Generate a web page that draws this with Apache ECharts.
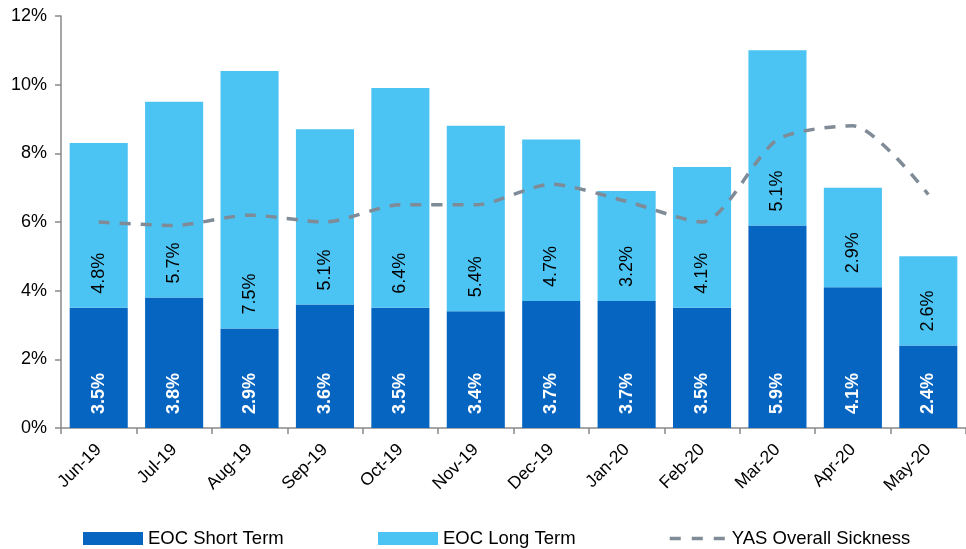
<!DOCTYPE html>
<html>
<head>
<meta charset="utf-8">
<script src="https://cdn.jsdelivr.net/npm/echarts@6/dist/echarts.min.js"></script>
<style>
  html, body { margin: 0; padding: 0; background: #ffffff; }
  #chart { width: 966px; height: 549px; }
</style>
</head>
<body>
<div id="chart"></div>
<script>
// Monthly sickness rates (%)
const months = ['Jun-19', 'Jul-19', 'Aug-19', 'Sep-19', 'Oct-19', 'Nov-19', 'Dec-19', 'Jan-20', 'Feb-20', 'Mar-20', 'Apr-20', 'May-20'];
const eocShortTerm = [3.5, 3.8, 2.9, 3.6, 3.5, 3.4, 3.7, 3.7, 3.5, 5.9, 4.1, 2.4];
const eocLongTerm = [4.8, 5.7, 7.5, 5.1, 6.4, 5.4, 4.7, 3.2, 4.1, 5.1, 2.9, 2.6];
const yasOverall = [6.0, 5.9, 6.2, 6.0, 6.5, 6.5, 7.1, 6.6, 6.0, 8.4, 8.8, 6.8];
const yTicks = { min: 0, max: 12, step: 2 };

const FONT = '"Liberation Sans", Arial, sans-serif';
const pct = p => p.value.toFixed(1) + '%';

const barLabel = (color, weight) => ({
  show: true,
  position: 'insideBottom',
  distance: 14,
  rotate: 90,
  align: 'left',
  verticalAlign: 'middle',
  color: color,
  fontFamily: FONT,
  fontSize: 18,
  fontWeight: weight,
  formatter: pct
});

const legendBase = {
  top: 524,
  itemWidth: 60,
  itemHeight: 13,
  itemGap: 6,
  textStyle: { fontFamily: FONT, fontSize: 18.5, color: '#000' }
};

const chart = echarts.init(document.getElementById('chart'), null, { renderer: 'canvas' });
chart.setOption({
  animation: false,
  backgroundColor: '#ffffff',
  grid: { left: 61, right: -5, top: 16, bottom: 121, containLabel: false },
  legend: [
    Object.assign({}, legendBase, { left: 78, icon: 'rect', data: ['EOC Short Term'] }),
    Object.assign({}, legendBase, { left: 373, icon: 'rect', data: ['EOC Long Term'] }),
    Object.assign({}, legendBase, {
      left: 663,
      itemWidth: 57,
      itemStyle: { opacity: 0 },
      lineStyle: { type: [11, 11], width: 3.5 },
      data: ['YAS Overall Sickness']
    })
  ],
  xAxis: {
    type: 'category',
    data: months,
    axisLine: { lineStyle: { color: '#898989', width: 1.5 } },
    axisTick: { show: true, length: 6, lineStyle: { color: '#898989', width: 1.5 } },
    axisLabel: {
      rotate: 45,
      margin: 19,
      color: '#000',
      fontFamily: FONT,
      fontSize: 17.5
    }
  },
  yAxis: {
    type: 'value',
    min: yTicks.min,
    max: yTicks.max,
    interval: yTicks.step,
    splitLine: { show: false },
    axisLine: { show: true, lineStyle: { color: '#898989', width: 1.5 } },
    axisTick: { show: true, length: 6, lineStyle: { color: '#898989', width: 1.5 } },
    axisLabel: {
      formatter: '{value}%',
      margin: 14,
      color: '#000',
      fontFamily: FONT,
      fontSize: 18
    }
  },
  series: [
    {
      name: 'EOC Short Term',
      type: 'bar',
      stack: 'eoc',
      data: eocShortTerm,
      barWidth: '77%',
      itemStyle: { color: '#0565C1' },
      label: barLabel('#ffffff', 'bold')
    },
    {
      name: 'EOC Long Term',
      type: 'bar',
      stack: 'eoc',
      data: eocLongTerm,
      barWidth: '77%',
      itemStyle: { color: '#4BC3F3' },
      label: barLabel('#000000', 'normal')
    },
    {
      name: 'YAS Overall Sickness',
      type: 'line',
      data: yasOverall,
      smooth: 0.25,
      symbol: 'none',
      z: 5,
      itemStyle: { color: '#7F8B96' },
      lineStyle: { color: '#7F8B96', width: 3.5, type: [11, 10] }
    }
  ]
});
</script>
</body>
</html>
